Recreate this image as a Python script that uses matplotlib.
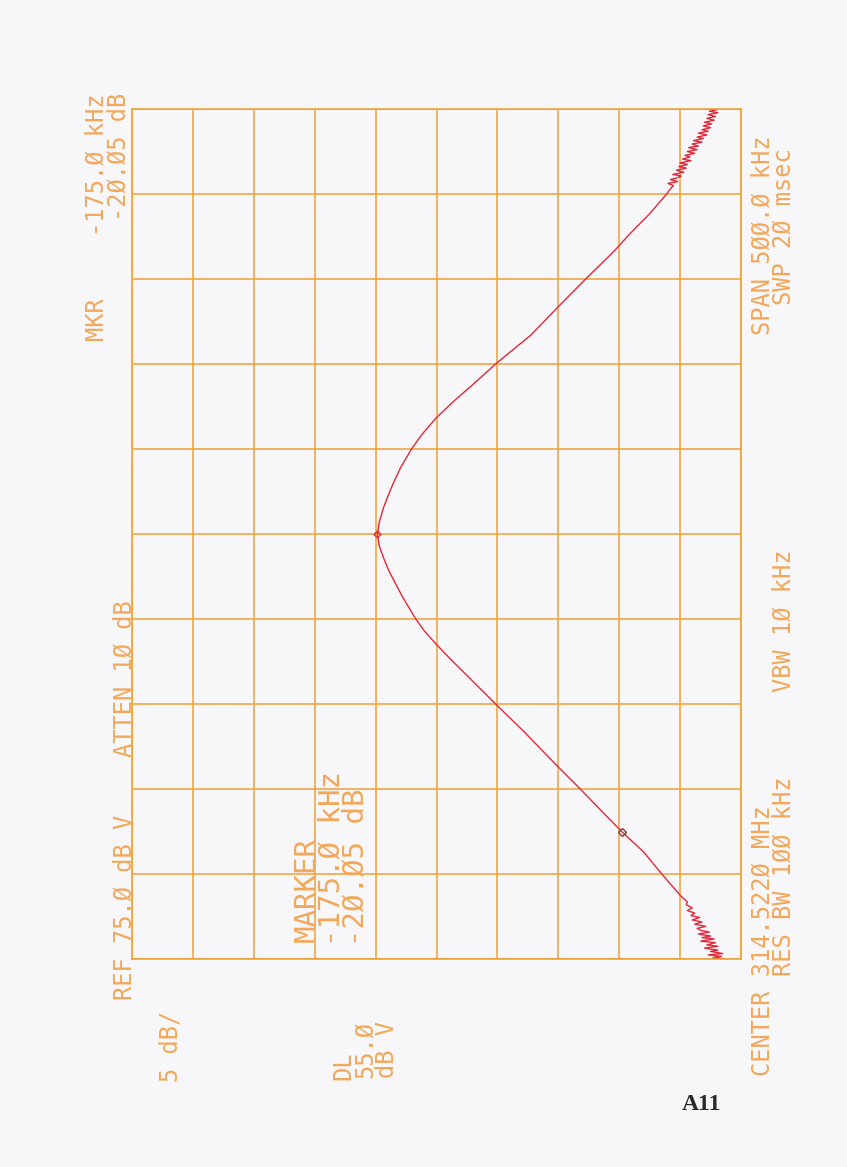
"""
Spectrum analyzer plot (rotated plotter sheet) redrawn with matplotlib.
Run: python plot.py
"""
import numpy as np
import matplotlib
matplotlib.use("Agg")
import matplotlib.pyplot as plt

W, H = 847, 1167

# trace: offset from centre (kHz) and level (dB V)
# noisy lower skirt
LOW_FREQ = [
    -250, -249.3, -248.5, -247.6, -246.8, -245.5, -244.8, -243.6, -242.5, -241.7,
    -240.4, -239.5, -238.2, -237.4, -236.5, -235.3, -234.1, -233.2, -232, -230.8,
    -229.5, -228.3, -227, -225.6, -224.5, -223, -221.5, -220, -218, -216.5,
]
LOW_LEVEL = [
    26.3, 27.3, 26.6, 27.7, 26.5, 27.5, 26.9, 28.0, 26.9, 27.8,
    27.1, 28.3, 27.2, 28.2, 27.5, 28.5, 27.6, 28.3, 28.6, 27.9,
    28.8, 28.2, 29.0, 28.4, 29.1, 28.8, 29.4, 29.0, 29.5, 29.4,
]
# clean part of the response
MAIN_FREQ = [
    -212.5, -200, -187, -175, -165.5, -150, -136, -116, -100, -82.5,
    -74, -65, -57, -50, -37.5, -28, -21, -14, -7, 0,
    7, 15.5, 22, 29, 39, 50, 58.5, 68.5, 78, 88,
    100, 117, 133, 150, 166.5, 176, 188, 200,
]
MAIN_LEVEL = [
    30.0, 31.5, 33.0, 34.8, 36.1, 38.2, 40.15, 42.85, 45.15, 47.6,
    48.8, 50.0, 51.0, 51.7, 52.75, 53.45, 53.95, 54.35, 54.7, 54.85,
    54.7, 54.35, 54.0, 53.6, 52.95, 52.05, 51.2, 50.0, 48.6, 47.0,
    45.15, 42.25, 40.1, 37.75, 35.4, 34.2, 32.55, 31.1,
]
# noisy upper skirt
HIGH_FREQ = [
    203, 205, 206.2, 207.3, 208.5, 209.4, 210.6, 211.5, 212.8, 214,
    215.2, 216.1, 217.4, 218.3, 219.6, 220.5, 221.8, 222.7, 223.9, 225,
    226.1, 227.3, 228.2, 229.4, 230.5, 231.4, 232.6, 233.5, 234.7, 235.8,
    236.9, 237.8, 239, 240.1, 241.3, 242.2, 243.4, 244.5, 245.6, 246.7,
    247.8, 248.7, 249.5, 250,
]
HIGH_LEVEL = [
    30.8, 30.55, 31.0, 30.2, 30.8, 30.3, 29.9, 30.6, 29.7, 30.3,
    29.5, 30.1, 29.4, 30.0, 29.1, 29.8, 29.2, 29.6, 28.8, 29.4,
    28.6, 29.3, 28.5, 29.0, 28.2, 28.9, 28.1, 28.6, 27.8, 28.5,
    27.7, 28.2, 27.5, 28.1, 27.4, 28.0, 27.2, 27.8, 27.1, 27.7,
    26.9, 27.6, 27.0, 27.4,
]

# markers: peak and MKR at -175 kHz
MKR_FREQ = [0, -175]
MKR_LEVEL = [54.85, 34.8]

REF_LEVEL = 75.0
DB_PER_DIV = 5
SPAN_KHZ = 500

GRID_COLOR = "#eea238"
TEXT_COLOR = "#f2a85a"
TRACE_COLOR = "#e2283a"
PAPER = "#f7f6f8"


def put(fig, x, y, s, size=17, ha="left"):
    # x = centre of the line, y = where the (rotated) text starts, sheet pixels
    fig.text(x / W, 1 - y / H, s, rotation=90, rotation_mode="anchor",
             ha=ha, va="center", fontsize=size, color=TEXT_COLOR,
             family="DejaVu Sans Mono")


def main():
    fig = plt.figure(figsize=(W / 100, H / 100), dpi=100, facecolor=PAPER)
    left, right, top, bottom = 132, 741, 109, 959
    ax = fig.add_axes([left / W, (H - bottom) / H, (right - left) / W, (bottom - top) / H])
    ax.set_facecolor(PAPER)

    ax.set_xlim(REF_LEVEL, REF_LEVEL - 10 * DB_PER_DIV)
    ax.set_ylim(-SPAN_KHZ / 2, SPAN_KHZ / 2)
    ax.set_xticks(np.arange(REF_LEVEL - 10 * DB_PER_DIV, REF_LEVEL + 1, DB_PER_DIV))
    ax.set_yticks(np.arange(-SPAN_KHZ / 2, SPAN_KHZ / 2 + 1, SPAN_KHZ / 10))
    ax.tick_params(length=0, labelbottom=False, labelleft=False)
    ax.grid(True, color=GRID_COLOR, linewidth=1.1)
    for sp in ax.spines.values():
        sp.set_color(GRID_COLOR)
        sp.set_linewidth(1.2)

    freq = LOW_FREQ + MAIN_FREQ + HIGH_FREQ
    level = LOW_LEVEL + MAIN_LEVEL + HIGH_LEVEL
    ax.plot(level, freq, color=TRACE_COLOR, linewidth=1.0)
    ax.plot(MKR_LEVEL[0], MKR_FREQ[0], marker="D", markersize=3.5,
            markerfacecolor="none", markeredgecolor=TRACE_COLOR)
    ax.plot(MKR_LEVEL[1], MKR_FREQ[1], marker="D", markersize=4,
            markerfacecolor="none", markeredgecolor="#8a3a30")

    # left side annotations
    put(fig, 125, 1000, "REF 75.Ø dB V")
    put(fig, 125, 757, "ATTEN 1Ø dB")
    put(fig, 170, 1082, "5 dB/")
    put(fig, 96, 340, "MKR")
    put(fig, 96, 93, "-175.Ø kHz", ha="right")
    put(fig, 118, 93, "-2Ø.Ø5 dB", ha="right")

    # marker readout inside the graticule
    put(fig, 307, 942, "MARKER", size=21)
    put(fig, 331, 946, "-175.Ø kHz", size=21)
    put(fig, 355, 946, "-2Ø.Ø5 dB", size=21)

    put(fig, 343, 1080, "DL")
    put(fig, 365, 1078, "55.Ø")
    put(fig, 387, 1078, "dB V")

    # right side settings
    put(fig, 762, 1076, "CENTER 314.522Ø MHz")
    put(fig, 783, 976, "RES BW 1ØØ kHz")
    put(fig, 783, 692, "VBW 1Ø kHz")
    put(fig, 762, 335, "SPAN 5ØØ.Ø kHz")
    put(fig, 783, 305, "SWP 2Ø msec")

    fig.text(702 / W, 1 - 1105 / H, "A11", ha="center", va="center",
             fontsize=17, fontweight="bold", family="Liberation Serif", color="#2a2a2a")

    fig.savefig("out.png", dpi=100, facecolor=fig.get_facecolor())
    plt.close(fig)


if __name__ == "__main__":
    main()
